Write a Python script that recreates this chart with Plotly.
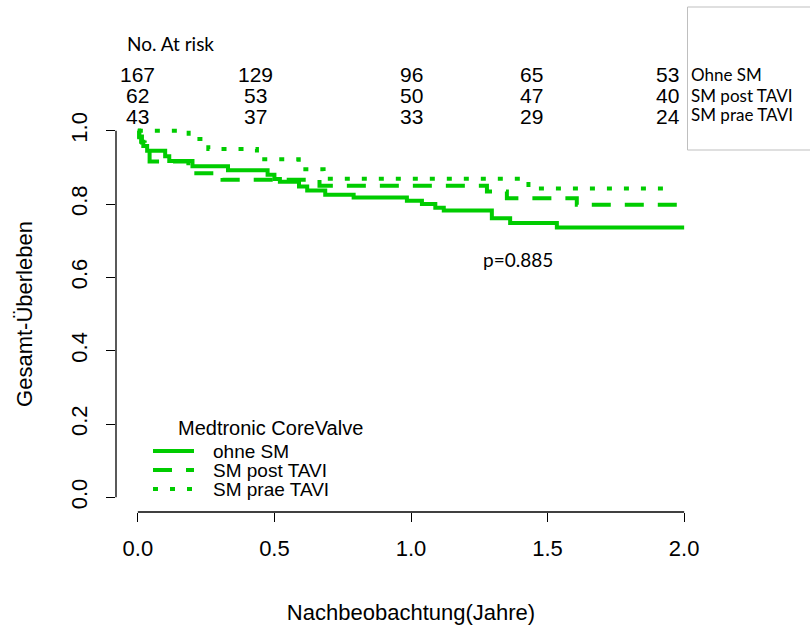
import plotly.graph_objects as go

# ---------------- data ----------------
ohne_t = [0, 0.005, 0.012, 0.02, 0.034, 0.10, 0.115, 0.20, 0.33, 0.475, 0.50, 0.52,
          0.59, 0.62, 0.686, 0.79, 0.985, 1.04, 1.089, 1.12, 1.296, 1.363, 1.534, 2.0]
ohne_s = [1.0, 0.982, 0.970, 0.958, 0.945, 0.930, 0.917, 0.903, 0.892, 0.880, 0.868, 0.861,
          0.848, 0.837, 0.825, 0.818, 0.809, 0.800, 0.790, 0.782, 0.761, 0.748, 0.736, 0.736]

post_t = [0, 0.005, 0.015, 0.025, 0.043, 0.185, 0.20, 0.31, 0.665, 1.278, 1.351, 1.607, 1.985, 1.995]
post_s = [1.0, 0.984, 0.968, 0.952, 0.916, 0.900, 0.884, 0.866, 0.850, 0.834, 0.816, 0.798, 0.780, 0.780]

prae_t = [0, 0.186, 0.258, 0.436, 0.589, 0.68, 1.43, 1.95]
prae_s = [1.0, 0.977, 0.950, 0.922, 0.895, 0.869, 0.842, 0.842]

series_names = ["ohne SM", "SM post TAVI", "SM prae TAVI"]
risk_labels = ["Ohne SM", "SM post TAVI", "SM prae TAVI"]
risk_ohne = [167, 129, 96, 65, 53]
risk_post = [62, 53, 50, 47, 40]
risk_prae = [43, 37, 33, 29, 24]
risk_pos = [0.0, 0.43, 1.0, 1.44, 1.94]

x_ticks = [0, 0.5, 1.0, 1.5, 2.0]
x_ticktext = ["0.0", "0.5", "1.0", "1.5", "2.0"]
y_ticks = [0, 0.2, 0.4, 0.6, 0.8, 1.0]
y_ticktext = ["0.0", "0.2", "0.4", "0.6", "0.8", "1.0"]

p_text = "p=0.885"
legend_title = "Medtronic CoreValve"

# ---------------- style ----------------
W, H = 810, 628
ML, MR, MT, MB = 116, 104, 116, 116
PW, PH = W - ML - MR, H - MT - MB
GREEN = "#00CC00"
ARIAL = "Liberation Sans, Arial, sans-serif"
CALIBRI = "Lato, Carlito, Calibri, sans-serif"
dashes = ["solid", "19px,14px", "5px,12px"]


def pxx(px):
    return (px - ML) / PW


def pxy(py):
    return (MT + PH - py) / PH


fig = go.Figure()
for t, s, name, dash in zip([ohne_t, post_t, prae_t], [ohne_s, post_s, prae_s], series_names, dashes):
    fig.add_trace(go.Scatter(x=t, y=s, mode="lines", name=name, line_shape="hv",
                             line=dict(color=GREEN, width=4, dash=dash), showlegend=False))

annotations = []
shapes = []

# risk table
annotations.append(dict(text="No. At risk", x=pxx(125), y=pxy(43), xref="paper", yref="paper",
                        xanchor="left", yanchor="middle", showarrow=False,
                        font=dict(family=CALIBRI, size=19, color="black")))
row_y = [75, 96, 116]
for row, vals in enumerate([risk_ohne, risk_post, risk_prae]):
    for xp, v in zip(risk_pos, vals):
        annotations.append(dict(text=str(v), x=xp, y=pxy(row_y[row]), xref="x", yref="paper",
                                xanchor="center", yanchor="middle", showarrow=False,
                                font=dict(family=ARIAL, size=21, color="black")))
    annotations.append(dict(text=risk_labels[row], x=pxx(689), y=pxy(row_y[row] - 1), xref="paper", yref="paper",
                            xanchor="left", yanchor="middle", showarrow=False,
                            font=dict(family=CALIBRI, size=17, color="black")))

# box at the right
shapes.append(dict(type="rect", xref="paper", yref="paper", x0=pxx(687.5), x1=pxx(830),
                   y0=pxy(150), y1=pxy(7), line=dict(color="#BFBFBF", width=1)))

# p-value
annotations.append(dict(text=p_text, x=pxx(518), y=pxy(259), xref="paper", yref="paper",
                        xanchor="center", yanchor="middle", showarrow=False,
                        font=dict(family=CALIBRI, size=19, color="black")))

# manual legend
annotations.append(dict(text=legend_title, x=pxx(176), y=pxy(428), xref="paper", yref="paper",
                        xanchor="left", yanchor="middle", showarrow=False,
                        font=dict(family=ARIAL, size=20, color="black")))
leg_y = [451, 470, 489]
for name, dash, ly in zip(series_names, dashes, leg_y):
    shapes.append(dict(type="line", xref="paper", yref="paper", x0=pxx(153), x1=pxx(194),
                       y0=pxy(ly), y1=pxy(ly), line=dict(color=GREEN, width=4, dash=dash)))
    annotations.append(dict(text=name, x=pxx(211), y=pxy(ly), xref="paper", yref="paper",
                            xanchor="left", yanchor="middle", showarrow=False,
                            font=dict(family=ARIAL, size=19, color="black")))

# R-style axis lines spanning only the tick range
shapes.append(dict(type="line", xref="x", yref="paper", x0=x_ticks[0], x1=x_ticks[-1], y0=0, y1=0,
                   line=dict(color="black", width=1.3)))
shapes.append(dict(type="line", xref="paper", yref="y", x0=0, x1=0, y0=y_ticks[0], y1=y_ticks[-1],
                   line=dict(color="black", width=1.3)))

fig.update_layout(
    width=W, height=H, margin=dict(l=ML, r=MR, t=MT, b=MB),
    paper_bgcolor="white", plot_bgcolor="white",
    annotations=annotations, shapes=shapes,
    xaxis=dict(range=[-0.08, 2.08], tickvals=x_ticks, ticktext=x_ticktext, ticks="outside",
               ticklen=9, tickwidth=1.3, tickcolor="black", showline=False, showgrid=False,
               zeroline=False, ticklabelstandoff=8, automargin=False,
               tickfont=dict(family=ARIAL, size=22, color="black"),
               title=dict(text="Nachbeobachtung(Jahre)", standoff=44,
                          font=dict(family=ARIAL, size=22, color="black"))),
    yaxis=dict(range=[-0.04, 1.04], tickvals=y_ticks, ticktext=y_ticktext, ticks="outside",
               ticklen=9, tickwidth=1.3, tickcolor="black", showline=False, showgrid=False,
               zeroline=False, tickangle=-90, ticklabelstandoff=10, automargin=False,
               tickfont=dict(family=ARIAL, size=22, color="black"),
               title=dict(text="Gesamt-Überleben", standoff=28,
                          font=dict(family=ARIAL, size=22, color="black"))),
)

fig.write_html("out.html")
